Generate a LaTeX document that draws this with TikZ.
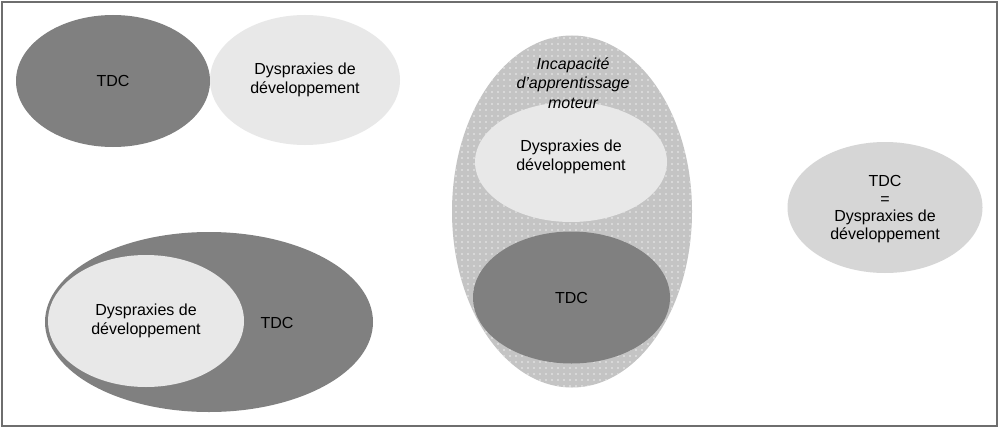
\documentclass[tikz,border=0pt]{standalone}
\usepackage{fontspec}
\setmainfont{Liberation Sans}
\usetikzlibrary{shapes.geometric,patterns.meta}
\definecolor{darkfill}{HTML}{808080}
\definecolor{lightfill}{HTML}{E8E8E8}
\definecolor{midfill}{HTML}{D6D6D6}
\definecolor{dotfill}{HTML}{C4C4C4}
\definecolor{framecol}{HTML}{6E6E6E}
\tikzset{
  blob/.style={ellipse, draw=none, inner sep=0pt, align=center,
    font=\fontsize{16}{18.5}\selectfont},
  darkblob/.style={blob, fill=darkfill},
  lightblob/.style={blob, fill=lightfill},
  lbl/.style={align=center, inner sep=0pt, font=\fontsize{16}{18.5}\selectfont},
}
\begin{document}
\begin{tikzpicture}[x=1pt,y=-1pt]
\useasboundingbox (0,0) rectangle (1000,428);
\fill[white] (0,0) rectangle (1000,428);
\draw[framecol, line width=2pt] (2,2) rectangle (996.5,426);
% top left pair
\node[darkblob, minimum width=194pt, minimum height=132pt] (tdcA) at (113,81) {TDC};
\node[lightblob, minimum width=190pt, minimum height=130pt] (dysA) at (305,80) {Dyspraxies de\\développement};
% bottom left inclusion
\node[darkblob, minimum width=328pt, minimum height=180pt] (tdcB) at (209,322) {};
\node[lightblob, minimum width=196pt, minimum height=132pt] (dysB) at (146,321) {};
\node[lbl] (dysBl) at (146,321) {Dyspraxies de\\développement};
\node[lbl] (tdcBl) at (277,323) {TDC};
% middle: motor learning incapacity
\node[blob, fill=dotfill, minimum width=240pt, minimum height=352pt] (inc) at (572,211.5) {};
\node[blob, pattern={Dots[distance=6pt, radius=0.8pt]}, pattern color=white!70!dotfill, minimum width=240pt, minimum height=352pt] (incdots) at (572,211.5) {};
\node[lightblob, minimum width=192pt, minimum height=120pt] (dysC) at (571,162) {};
\node[lbl] (dysCl) at (571,157) {Dyspraxies de\\développement};
\node[darkblob, minimum width=197pt, minimum height=132pt] (tdcC) at (571.5,297.5) {TDC};
\node[lbl, font=\fontsize{16}{19.5}\selectfont\itshape] (incl) at (573,83) {Incapacité\\d’apprentissage\\moteur};
% right: equality
\node[blob, fill=midfill, minimum width=195pt, minimum height=131pt] (eq) at (885,207.5) {};
\node[lbl, font=\fontsize{16}{17.5}\selectfont] (eql) at (885,209) {TDC\\=\\Dyspraxies de\\développement};
\end{tikzpicture}
\end{document}
